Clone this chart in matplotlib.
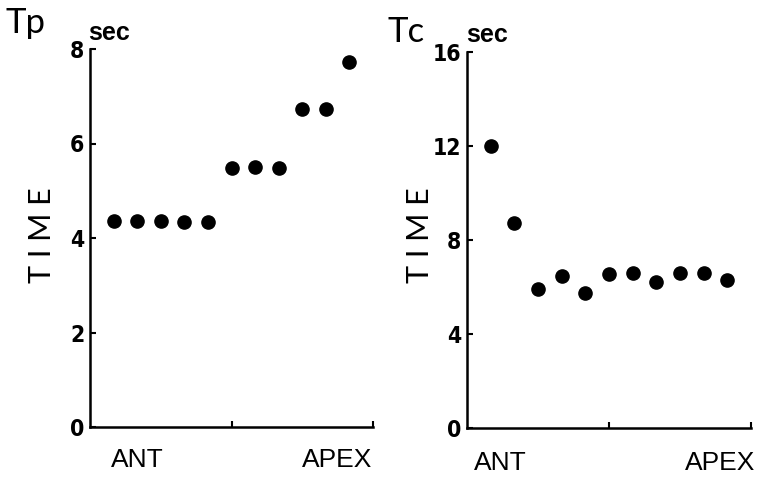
import matplotlib
matplotlib.use("Agg")
import matplotlib.pyplot as plt
import matplotlib.transforms as mtransforms

positions = list(range(1, 12))
tp_values = [4.36, 4.36, 4.35, 4.33, 4.33, 5.49, 5.50, 5.49, 6.72, 6.72, 7.72]
tc_values = [12.0, 8.71, 5.90, 6.47, 5.76, 6.55, 6.58, 6.23, 6.58, 6.58, 6.30]
tp_yticks = [0, 2, 4, 6, 8]
tc_yticks = [0, 4, 8, 12, 16]
panel_titles = ["Tp", "Tc"]
unit_label = "sec"
axis_label = "T I M E"
end_labels = ["ANT", "APEX"]

W, H = 760, 482
fig = plt.figure(figsize=(W / 100, H / 100), dpi=100)

tick_font = dict(family=["DejaVu Sans"], stretch="condensed",
                 weight="bold", size=16.5)

def make_panel(rect, values, yticks, title, title_xy, sec_xy, time_x, lab_x, lab_y):
    ax = fig.add_axes(rect)
    ax.plot(positions, values, "o", color="black", markersize=9.5, clip_on=False)
    ax.set_xlim(0, 12)
    ax.set_ylim(yticks[0], yticks[-1])
    ax.set_yticks(yticks)
    ax.set_yticklabels([str(t) for t in yticks], fontdict=tick_font)
    ax.set_xticks([6, 12])
    ax.set_xticklabels([])
    for s in ["top", "right"]:
        ax.spines[s].set_visible(False)
    for s in ["left", "bottom"]:
        ax.spines[s].set_linewidth(1.8)
    ax.tick_params(axis="both", direction="in", length=4, width=1.5, pad=4)
    ax.tick_params(axis="y", pad=4)
    fig.text(title_xy[0] / W, 1 - title_xy[1] / H, title, fontsize=25,
             family=["Lato", "DejaVu Sans"], color="black", va="baseline", ha="left")
    fig.text(sec_xy[0] / W, 1 - sec_xy[1] / H, unit_label, fontsize=18,
             family=["Liberation Sans", "DejaVu Sans"], weight="bold",
             va="baseline", ha="left")
    fig.text(time_x / W, 1 - 235 / H, axis_label, fontsize=22, rotation=90,
             family=["Lato", "DejaVu Sans"], color="black", va="center", ha="center")
    trans = mtransforms.blended_transform_factory(ax.transData, fig.transFigure)
    for lx, lab in zip(lab_x, end_labels):
        ax.text(lx, 1 - lab_y / H, lab, transform=trans, fontsize=19,
                family=["Liberation Sans", "DejaVu Sans"], ha="center", va="center")
    return ax

make_panel([90 / W, 1 - 427 / H, (373 - 90) / W, (427 - 49) / H],
           tp_values, tp_yticks, panel_titles[0], (6, 33), (88, 40), 42,
           [2.0, 10.5], 460)
make_panel([467 / W, 1 - 428 / H, (751 - 467) / W, (428 - 52) / H],
           tc_values, tc_yticks, panel_titles[1], (388, 42), (466, 42), 420,
           [1.4, 10.7], 463)

fig.savefig("out.png", dpi=100)
